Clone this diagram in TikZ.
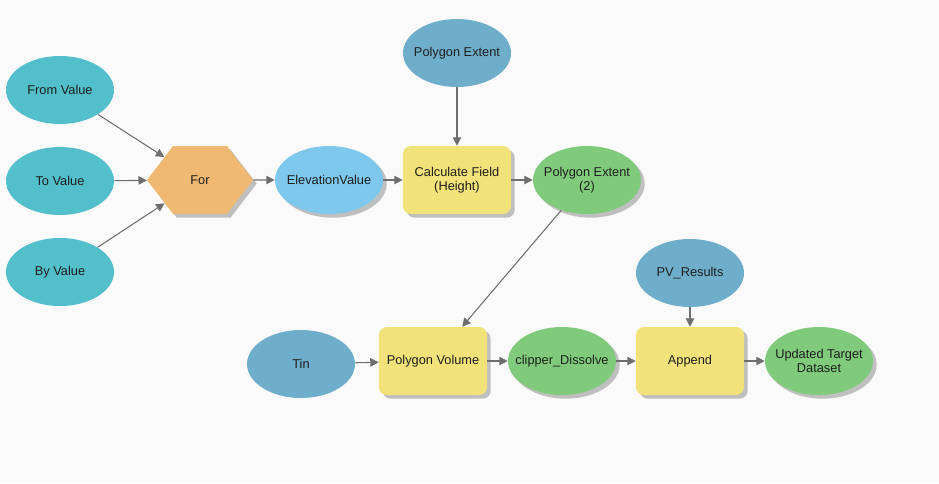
\documentclass[tikz,border=0pt]{standalone}
\usepackage{fontspec}
\setmainfont{Liberation Sans}
\usetikzlibrary{shapes.geometric, shapes.symbols, shadows, arrows.meta, positioning}

\definecolor{bgcol}{HTML}{FAFAFA}
\definecolor{varcyan}{HTML}{52BFCB}
\definecolor{datablue}{HTML}{6FAECB}
\definecolor{elevblue}{HTML}{7DC8EC}
\definecolor{toolyellow}{HTML}{F2E27A}
\definecolor{outgreen}{HTML}{80CB7B}
\definecolor{iterorange}{HTML}{F0B973}
\definecolor{linkgray}{HTML}{6E6E6E}
\definecolor{labelink}{HTML}{1E1E1E}

\tikzset{
  shadowed/.style={drop shadow={shadow xshift=2.6pt, shadow yshift=-2.6pt, fill=black!35, opacity=0.7}},
  oval/.style={ellipse, minimum width=2.7cm, minimum height=1.7cm, inner xsep=-7pt, inner ysep=1pt,
               align=center, text=labelink},
  inparam/.style={oval, fill=varcyan},
  indata/.style={oval, fill=datablue},
  derived/.style={oval, fill=elevblue, shadowed},
  outdata/.style={oval, fill=outgreen, shadowed},
  toolbox/.style={rectangle, rounded corners=0.2cm, minimum width=2.7cm, minimum height=1.7cm,
                  align=center, text=labelink, fill=toolyellow, shadowed},
  iterbox/.style={signal, signal to=east and west, signal pointer angle=105, text=labelink,
                  minimum width=2.65cm, minimum height=1.7cm, inner sep=1pt, fill=iterorange, shadowed},
  link/.style={->, draw=linkgray, line width=0.75pt}
}

\begin{document}
\begin{tikzpicture}[x=0.025cm, y=-0.025cm, >={Triangle[length=6pt,width=6pt]},
                    font=\fontsize{9.1}{10}\selectfont]

    % --- Canvas ---
    \fill[bgcol] (0,0) rectangle (939,483);
    \useasboundingbox (0,0) rectangle (939,483);

    % --- Iterator inputs ---
    \node[inparam] (fromval) at (60,90)  {From Value};
    \node[inparam] (toval)   at (60,181) {To Value};
    \node[inparam] (byval)   at (60,272) {By Value};

    % --- For iterator ---
    \node[iterbox] (forit) at (200,180) {For};
    \node[derived] (elev)  at (329,180) {ElevationValue};

    % --- Calculate Field ---
    \node[indata]  (polyext)  at (457,53)  {Polygon Extent};
    \node[toolbox] (calcfld)  at (457,180) {Calculate Field\\(Height)};
    \node[outdata] (polyext2) at (587,180) {Polygon Extent\\(2)};

    % --- Bottom row ---
    \node[indata]  (tin)      at (301,364) {Tin};
    \node[toolbox] (polyvol)  at (433,361) {Polygon Volume};
    \node[outdata] (clipdiss) at (562,361) {clipper\_Dissolve};
    \node[indata]  (pvres)    at (690,273) {PV\_Results};
    \node[toolbox] (append)   at (690,361) {Append};
    \node[outdata] (updated)  at (819,361) {Updated Target\\Dataset};

    % --- Connectors ---
    \draw[link] (fromval) -- (forit);
    \draw[link] (toval) -- (forit);
    \draw[link] (byval) -- (forit);
    \draw[link] (forit) -- (elev);
    \draw[link] (elev) -- (calcfld);
    \draw[link] (polyext) -- (calcfld);
    \draw[link] (calcfld) -- (polyext2);
    \draw[link] (polyext2) -- (polyvol);
    \draw[link] (tin) -- (polyvol);
    \draw[link] (polyvol) -- (clipdiss);
    \draw[link] (clipdiss) -- (append);
    \draw[link] (pvres) -- (append);
    \draw[link] (append) -- (updated);

\end{tikzpicture}
\end{document}
